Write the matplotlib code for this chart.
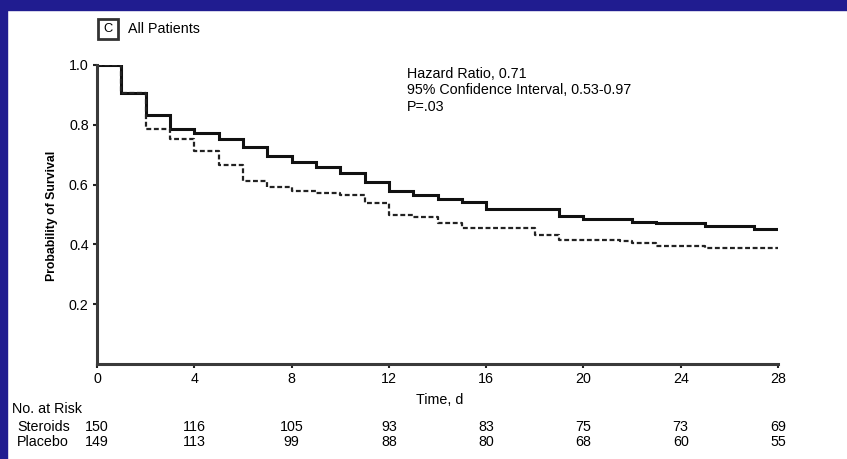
import numpy as np
import matplotlib
matplotlib.use("Agg")
import matplotlib.pyplot as plt
from matplotlib.patches import Rectangle

plt.rcParams["font.family"] = ["Liberation Sans", "DejaVu Sans"]

# survival curves (days, probability)
steroid_t = [0, 1, 2, 3, 4, 5, 6, 7, 8, 9, 10, 11, 12, 13, 14, 15, 16, 19, 20, 22, 23, 25, 27, 28]
steroid_s = [1.0, 0.906, 0.833, 0.786, 0.773, 0.752, 0.726, 0.696, 0.676, 0.659, 0.639, 0.609,
             0.579, 0.565, 0.551, 0.541, 0.518, 0.495, 0.484, 0.476, 0.470, 0.462, 0.452, 0.452]
placebo_t = [0, 1, 2, 3, 4, 5, 6, 7, 8, 9, 10, 11, 12, 13, 14, 15, 18, 19, 21.5, 22, 23, 25, 28]
placebo_s = [1.0, 0.906, 0.786, 0.752, 0.712, 0.666, 0.613, 0.592, 0.578, 0.572, 0.565, 0.54,
             0.498, 0.49, 0.47, 0.456, 0.431, 0.415, 0.41, 0.406, 0.396, 0.387, 0.387]

xticks = [0, 4, 8, 12, 16, 20, 24, 28]
yticks = [0.2, 0.4, 0.6, 0.8, 1.0]
risk_steroid = [150, 116, 105, 93, 83, 75, 73, 69]
risk_placebo = [149, 113, 99, 88, 80, 68, 60, 55]
stats_lines = ["Hazard Ratio, 0.71", "95% Confidence Interval, 0.53-0.97", "P=.03"]

W, H = 847, 459
fs = 10.3
fig = plt.figure(figsize=(W / 100, H / 100), dpi=100)
fig.patch.set_facecolor("white")

def fx(px):
    return px / W

def fy(py):
    return 1 - py / H

# blue frame on top and left
blue = "#201c90"
fig.add_artist(Rectangle((0, fy(10)), 1, 10 / H, transform=fig.transFigure, color=blue, zorder=0))
fig.add_artist(Rectangle((0, 0), 7 / W, 1, transform=fig.transFigure, color=blue, zorder=0))

ax = fig.add_axes([fx(97), fy(364), fx(778) - fx(97), fy(65) - fy(364)])
ax.plot(steroid_t, steroid_s, drawstyle="steps-post", color="#111111", lw=2.2, solid_joinstyle="miter")
ax.plot(placebo_t, placebo_s, drawstyle="steps-post", color="#222222", lw=1.6, dashes=(2.2, 1.2))

ax.set_xlim(0, 28)
ax.set_ylim(0, 1.0)
ax.set_xticks(xticks)
ax.set_xticklabels([str(t) for t in xticks], fontsize=fs)
ax.set_yticks(yticks)
ax.set_yticklabels(["%.1f" % v for v in yticks], fontsize=fs)
for s in ["top", "right"]:
    ax.spines[s].set_visible(False)
for s in ["left", "bottom"]:
    ax.spines[s].set_linewidth(2.2)
    ax.spines[s].set_color("#3a3a3a")
ax.tick_params(direction="out", length=3, width=1.5, color="#222222", pad=3)
ax.patch.set_alpha(0)
fig.text(fx(440), fy(400), "Time, d", fontsize=fs, ha="center", va="center")
fig.text(fx(52), fy(216), "Probability of Survival", fontsize=8.8, ha="center", va="center",
         rotation=90, fontweight="bold")

# panel label
fig.add_artist(Rectangle((fx(98), fy(39)), 20 / W, 20 / H, transform=fig.transFigure,
                         fill=False, lw=2, edgecolor="#333333"))
fig.text(fx(108), fy(29), "C", fontsize=fs - 1, ha="center", va="center")
fig.text(fx(128), fy(29), "All Patients", fontsize=fs, ha="left", va="center")

for i, line in enumerate(stats_lines):
    fig.text(fx(407), fy(74 + i * 16.5), line, fontsize=fs, ha="left", va="center")

# number at risk table
fig.text(fx(12), fy(409), "No. at Risk", fontsize=fs, ha="left", va="center")
fig.text(fx(17), fy(427), "Steroids", fontsize=fs, ha="left", va="center")
fig.text(fx(17), fy(442), "Placebo", fontsize=fs, ha="left", va="center")
for t, a, b in zip(xticks, risk_steroid, risk_placebo):
    xp = ax.transData.transform((t, 0))[0] / fig.bbox.width
    fig.text(xp, fy(427), str(a), fontsize=fs, ha="center", va="center")
    fig.text(xp, fy(442), str(b), fontsize=fs, ha="center", va="center")

fig.savefig("out.png", dpi=100)
